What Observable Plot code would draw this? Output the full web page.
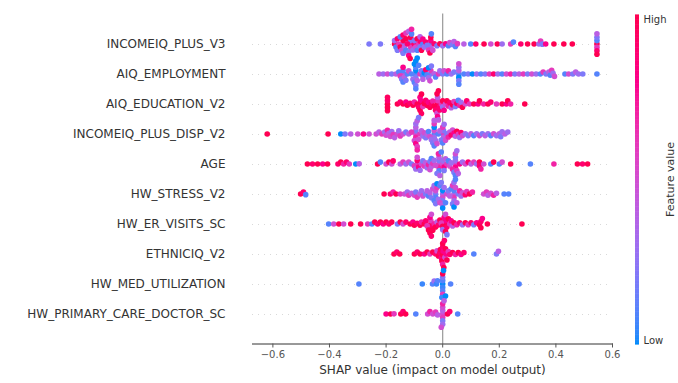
<!DOCTYPE html>
<html>
<head>
<meta charset="utf-8">
<script src="https://cdn.jsdelivr.net/npm/d3@7"></script>
<script src="https://cdn.jsdelivr.net/npm/@observablehq/plot@0.6"></script>
<style>
  html, body { margin: 0; padding: 0; background: #fff; }
  #chart { position: relative; width: 678px; height: 383px; font-family: "DejaVu Sans", sans-serif; }
  #chart > svg { position: absolute; left: 0; top: 0; }
</style>
</head>
<body>
<div id="chart"></div>
<script>
// Feature names (top to bottom)
const features = [
  "INCOMEIQ_PLUS_V3", "AIQ_EMPLOYMENT", "AIQ_EDUCATION_V2", "INCOMEIQ_PLUS_DISP_V2",
  "AGE", "HW_STRESS_V2", "HW_ER_VISITS_SC", "ETHNICIQ_V2",
  "HW_MED_UTILIZATION", "HW_PRIMARY_CARE_DOCTOR_SC"
];

// [SHAP value, normalized feature value (0 = low, 1 = high)]
const incomeiqPlusV3 = [
  [-0.113,0.9],[-0.113,0.2],[-0.113,0.6],[-0.113,1],[-0.042,0.1],[-0.042,0.8],[-0.042,0.4],[-0.042,1],[-0.14,0.3],[-0.14,1],
  [-0.26,0.2],[-0.22,0.2],
  [-0.17,1],[-0.17,0.3],[-0.165,0.1],[-0.16,0.9],[-0.16,0.2],[-0.155,0.6],[-0.15,1],[-0.15,0.1],[-0.145,0.5],[-0.14,0.9],[-0.14,0.2],[-0.135,0.4],[-0.13,1],[-0.13,0.1],[-0.13,0.6],[-0.125,0.9],[-0.12,0.2],[-0.12,0.8],[-0.12,0.4],[-0.115,1],[-0.11,0.1],[-0.11,0.7],[-0.105,0.3],[-0.1,0.9],[-0.1,0.2],[-0.095,0.5],[-0.09,1],[-0.09,0.1],[-0.085,0.6],[-0.08,0.9],[-0.08,0.2],[-0.08,0.4],[-0.075,1],[-0.07,0.1],[-0.07,0.8],[-0.065,0.3],[-0.06,0.9],[-0.055,0.2],[-0.05,0.6],[-0.045,1],[-0.04,0.1],[-0.035,0.5],[-0.03,0.9],[-0.02,0.2],[-0.01,1],[0.0,0.3],[0.01,0.8],[0.02,0.1],[0.025,0.5],[0.035,0.2],[0.04,0.4],[0.045,0.1],
  [0.052,0.6],[0.075,0.4],[0.099,0.1],[0.117,0.9],[0.146,1],[0.17,0.5],[0.193,1],[0.21,0.3],[0.24,0.6],[0.25,0.1],[0.276,0.9],[0.3,1],[0.323,1],[0.34,0.3],[0.346,0.6],[0.352,0.2],[0.364,0.8],[0.393,1],[0.428,1],[0.458,1],
  [0.545,1],[0.545,0.1],[0.545,0.6],[0.545,0.9],[0.545,0.2],[0.545,1],[0.545,0.4]
];
const aiqEmployment = [
  [-0.095,0.1],[-0.095,0.0],[-0.095,0.2],[-0.095,0.1],[-0.14,0.5],[-0.14,0.1],[-0.042,0.2],[-0.042,0.6],
  [-0.225,0.4],[-0.21,0.3],[-0.195,0.5],[-0.18,0.2],[-0.165,0.4],[-0.155,0.1],
  [-0.15,0.6],[-0.145,0.2],[-0.14,0.8],[-0.14,0.1],[-0.135,0.4],[-0.13,0.2],[-0.125,0.1],[-0.12,0.5],
  [-0.11,0.1],[-0.105,0.3],[-0.1,0.1],[-0.1,0],[-0.095,0.2],[-0.095,0],[-0.095,0.1],[-0.09,0.4],[-0.09,0],[-0.085,0.1],[-0.08,0.6],[-0.075,0.2],[-0.07,0.1],[-0.07,0.4],[-0.065,0.0],[-0.06,0.9],[-0.055,0.1],[-0.05,0.3],[-0.05,0.0],[-0.045,0.5],[-0.04,0.2],[-0.03,0.4],[-0.025,0.1],[-0.015,0.6],[-0.01,0.3],[0.0,0.2],[0.005,0.5],[0.015,0.1],[0.02,0.7],[0.03,0.3],[0.04,0.2],
  [0.057,0.1],[0.057,0.4],[0.057,0.0],[0.057,0.2],[0.057,0.3],[0.057,0.1],[0.057,0.5],
  [0.075,0.1],[0.09,0.2],[0.105,0.0],[0.12,0.3],[0.135,0.1],[0.15,0.2],[0.165,0.6],[0.18,0.9],[0.195,0.3],[0.21,0.1],[0.225,0.5],[0.24,0.7],[0.255,0.2],[0.27,0.4],[0.285,0.6],[0.3,0.2],[0.315,0.5],[0.33,0.3],[0.345,0.1],[0.355,0.6],[0.365,0.2],[0.375,0.4],[0.38,0.1],[0.385,0.6],[0.39,0.3],[0.395,0.5],[0.432,0.1],[0.445,0.5],[0.46,0.2],[0.47,0.4],[0.48,0.3],[0.495,0.2],[0.545,0.1]
];
const aiqEducationV2 = [
  [-0.018,1],[-0.018,0.6],[-0.018,0.9],[-0.018,0.4],[-0.078,1],[-0.078,0.8],
  [-0.195,1],[-0.195,0.9],[-0.195,1],[-0.195,0.95],[-0.195,1],
  [-0.16,1],[-0.15,0.9],[-0.14,1],[-0.13,0.8],[-0.125,1],[-0.115,0.9],[-0.105,1],[-0.1,0.7],
  [-0.09,1],[-0.085,0.9],[-0.08,1],[-0.08,0.8],[-0.075,0.95],[-0.075,1],[-0.07,0.6],[-0.065,1],[-0.06,0.9],[-0.055,1],[-0.05,0.8],[-0.045,1],[-0.04,0.9],[-0.035,0.7],[-0.03,1],[-0.025,0.9],[-0.02,0.5],[-0.02,1],[-0.018,0.8],[-0.015,1],[-0.015,0.4],[-0.01,0.9],[-0.005,0.6],[0.0,1],[0.0,0.3],[0.005,0.8],[0.01,0.5],[0.015,1],[0.02,0.7],[0.025,0.9],[0.03,0.4],[0.035,1],[0.04,0.6],[0.045,0.2],[0.05,0.9],[0.055,0.1],[0.06,0.7],[0.065,0.3],[0.07,1],[0.08,0.5],[0.085,0.9],[0.095,0.6],[0.11,1],[0.125,0.8],[0.13,1],[0.145,0.7],[0.16,1],[0.17,0.9],[0.19,0.6],[0.21,1],[0.225,0.8],[0.23,1],[0.24,0.7],[0.29,1]
];
const incomeiqPlusDispV2 = [
  [-0.095,0.5],[-0.095,0.2],[-0.095,0.7],[-0.095,0.4],[-0.03,0.1],[-0.03,0.5],[-0.03,0.3],[-0.03,0.0],[0.003,0.6],[0.003,0.2],[0.003,0.4],
  [-0.62,1],[-0.405,1],[-0.36,0],[-0.345,0.2],[-0.325,0.4],[-0.3,0.5],[-0.28,0.8],[-0.26,0.5],
  [-0.235,0.5],[-0.225,0.4],[-0.215,0.6],[-0.205,0.3],[-0.2,0.5],[-0.195,0.7],[-0.19,0.4],[-0.185,0.5],[-0.18,0.3],[-0.175,0.6],[-0.17,0.4],[-0.16,0.5],[-0.155,0.3],[-0.15,0.6],[-0.14,0.5],[-0.13,0.2],[-0.12,0.4],[-0.11,0.6],
  [-0.1,0.5],[-0.095,0.8],[-0.095,0.3],[-0.09,0.6],[-0.09,0.4],[-0.09,0.7],[-0.085,0.5],[-0.085,0.2],[-0.08,0.6],[-0.075,0.4],[-0.07,0.3],[-0.065,0.5],[-0.06,0.2],[-0.055,0.4],[-0.05,0.1],[-0.045,0.5],[-0.04,0.3],[-0.035,0.2],[-0.03,0.6],[-0.03,0.1],[-0.03,0.4],[-0.025,0.3],[-0.02,0.5],[-0.015,0.1],[-0.01,0.4],[-0.005,0.2],[0.0,0.6],[0.0,0.1],[0.005,0.3],[0.01,0.5],[0.015,0.2],[0.02,0.7],[0.025,0.4],[0.03,0.9],[0.035,0.5],[0.04,0.8],[0.045,0.4],[0.05,1],[0.055,0.6],[0.06,0.3],[0.065,0.9],[0.07,0.5],
  [0.08,0.3],[0.09,0.2],[0.1,0.4],[0.11,0.1],[0.12,0.3],[0.13,0.5],[0.14,0.2],[0.15,0.4],[0.16,0.3],[0.17,0.1],[0.18,0.5],[0.19,0.3],[0.2,0.4],[0.205,0.2],[0.21,0.3],[0.22,0.4],[0.23,0.3]
];
const age = [
  [-0.013,0.5],[-0.013,0.2],[-0.013,0.7],[-0.013,0.4],[-0.013,0.1],[0.045,0.6],[0.045,0.3],[0.045,0.8],[0.045,0.2],[-0.09,0.5],[-0.09,0.9],
  [-0.478,1],[-0.46,0.9],[-0.442,1],[-0.424,0.8],[-0.407,1],[-0.37,0.9],[-0.36,1],[-0.35,0.7],[-0.34,0.9],[-0.33,0.6],[-0.307,0],[-0.295,0.4],[-0.23,1],[-0.22,0.1],[-0.2,0.5],[-0.19,1],[-0.18,0.5],[-0.175,0.9],
  [-0.15,0.4],[-0.14,0.6],[-0.13,0.3],[-0.12,0.5],[-0.11,0.2],[-0.1,0.6],[-0.095,0.3],[-0.09,0.5],[-0.085,0.8],[-0.08,0.3],[-0.075,0.5],[-0.07,0.2],[-0.065,0.6],[-0.06,0.4],[-0.055,0.3],[-0.05,0.7],[-0.045,0.2],[-0.045,0.5],[-0.04,0.4],[-0.04,0.1],[-0.035,0.6],[-0.03,0.3],[-0.025,0.5],[-0.02,0.2],[-0.015,0.7],[-0.01,0.4],[-0.005,0.1],[0.0,0.5],[0.0,0.3],[0.005,0.8],[0.005,0.2],[0.01,0.4],[0.015,0.6],[0.02,0.1],[0.025,0.5],[0.03,0.3],[0.035,0.7],[0.04,0.2],[0.045,0.5],[0.045,0.1],[0.05,0.6],[0.05,0.3],[0.055,0.4],[0.06,0.8],[0.07,0.3],[0.08,0.5],[0.09,0.9],[0.1,0.4],[0.11,0.6],[0.12,0.3],[0.13,1],[0.13,0.9],[0.135,0.7],[0.145,0.5],
  [0.17,0.1],[0.18,1],[0.2,0.1],[0.21,0.5],[0.24,1],[0.31,0.1],[0.393,0.7],[0.476,1],[0.494,0.9],[0.512,1]
];
const hwStressV2 = [
  [-0.025,0.2],[-0.025,0.5],[-0.025,0.1],[0.0,0.3],[0.0,0.0],[0.0,0.5],[0.0,0.2],[0.04,0.4],[0.04,0.1],[0.04,0.6],[0.04,0.3],
  [-0.502,1],[-0.492,0.9],[-0.484,0.1],[-0.207,1],[-0.185,0.9],[-0.175,0.7],[-0.165,1],[-0.15,0.6],
  [-0.135,0.5],[-0.125,0.3],[-0.12,0.6],[-0.11,0.4],[-0.1,0.5],[-0.095,0.2],[-0.09,0.6],[-0.08,0.4],[-0.075,0.3],[-0.07,0.5],[-0.06,0.2],[-0.055,0.4],
  [-0.05,0.1],[-0.045,0.4],[-0.04,0.2],[-0.035,0.5],[-0.03,0.1],[-0.03,0.3],[-0.025,0.2],[-0.02,0.6],[-0.02,0.0],[-0.015,0.3],[-0.01,0.1],[-0.01,0.5],[-0.005,0.2],[0.0,0.4],[0.0,0.0],[0.005,0.3],[0.01,0.1],[0.015,0.5],[0.02,0.2],[0.025,0.4],[0.03,0.1],[0.035,0.6],[0.035,0.2],[0.04,0.3],[0.04,0.0],[0.045,0.5],[0.045,0.1],[0.05,0.4],[0.055,0.2],[0.06,0.7],[0.065,0.3],[0.07,0.5],[0.08,0.9],[0.085,0.6],[0.095,1],[0.105,0.7],
  [0.145,0.5],[0.155,0.6],[0.16,0.4],[0.17,0.5],[0.18,0.7],[0.19,0.4],[0.217,0.1],[0.233,0.1]
];
const hwErVisitsSc = [
  [-0.042,1],[-0.042,0.6],[-0.042,0.9],[0.01,1],[0.01,0.8],
  [-0.403,0.1],[-0.385,0.5],[-0.367,1],[-0.35,0.5],[-0.325,1],[-0.29,1],[-0.265,0.6],[-0.25,0.1],[-0.24,1],[-0.23,0.9],[-0.22,1],[-0.21,0.8],[-0.2,1],[-0.19,0.9],[-0.18,1],[-0.16,0.2],[-0.15,1],[-0.14,0.5],[-0.13,0.9],[-0.115,1],[-0.105,0.8],[-0.1,1],[-0.09,0.9],[-0.08,1],[-0.075,0.7],[-0.065,1],
  [-0.06,0.9],[-0.055,0.6],[-0.05,1],[-0.045,0.8],[-0.045,1],[-0.04,0.5],[-0.04,0.9],[-0.035,1],[-0.03,0.7],[-0.025,1],[-0.02,0.4],[-0.015,0.9],[-0.01,1],[-0.005,0.6],[0.0,1],[0.0,0.3],[0.005,0.8],[0.01,1],[0.01,0.5],[0.015,0.9],[0.015,0.2],[0.02,1],[0.025,0.6],[0.03,0.8],[0.035,0.4],[0.04,1],[0.05,0.7],[0.06,0.9],[0.07,0.3],[0.08,1],[0.09,0.6],[0.1,0.9],[0.11,0.2],[0.12,0.8],[0.13,1],[0.135,0.9],[0.135,1],[0.14,0.8],[0.158,1],[0.28,1]
];
const ethniciqV2 = [
  [-0.172,1],[-0.162,0.9],[-0.152,1],[-0.1,1],[-0.09,0.9],[-0.08,1],[-0.065,0.8],[-0.055,1],[-0.045,0.6],[-0.035,1],[-0.025,0.9],[-0.02,0.5],
  [-0.015,1],[-0.01,0.9],[-0.008,1],[-0.005,0.8],[-0.003,1],[0.0,1],[0.0,0.9],[0.0,0.7],[0.0,1],[0.002,0.8],[0.004,1],[0.006,0.9],[0.008,0.5],[0.01,1],[0.012,0.8],[0.015,1],[0.02,0.6],[0.025,0.9],[0.035,1],[0.045,0.7],[0.055,1],[0.065,0.8],[0.075,0.9],[0.11,0.1],[0.19,0.2],[0.197,0.4]
];
const hwMedUtilization = [
  [-0.296,0.1],[-0.072,0.05],[-0.036,0.1],[-0.03,0.3],[-0.022,0.05],[-0.018,0.1],
  [0.0,0.0],[0.0,0.1],[0.0,0.05],[0.0,0.2],[0.0,0.1],[0.0,1],[0.0,0.6],[0.003,0.0],[-0.003,0.05],[0.01,0.0],[0.028,0.1],[0.27,0.1]
];
const hwPrimaryCareDoctorSc = [
  [-0.2,0.8],[-0.184,1],[-0.172,0.6],[-0.148,1],[-0.14,0.9],[-0.131,1],[-0.095,0.1],[-0.053,0.5],[-0.045,0.7],[-0.035,0.5],[-0.025,0.6],[-0.018,0.4],
  [0.0,0.5],[0.0,0.4],[0.0,0.6],[0.0,0.2],[0.0,0.5],[0.0,0.3],[0.0,0.7],[-0.005,0.5],[0.005,0.4],[0.017,1],[0.025,0.9],[0.053,0.1]
];

const xTicks = [-0.6, -0.4, -0.2, 0.0, 0.2, 0.4, 0.6];
const xLabel = "SHAP value (impact on model output)";
const colorLabels = { high: "High", low: "Low", title: "Feature value" };

const seriesByFeature = [
  incomeiqPlusV3, aiqEmployment, aiqEducationV2, incomeiqPlusDispV2, age,
  hwStressV2, hwErVisitsSc, ethniciqV2, hwMedUtilization, hwPrimaryCareDoctorSc
];
const points = features.flatMap((f, i) =>
  seriesByFeature[i].map(([shap, value]) => ({feature: f, shap, value}))
);

const W = 678, H = 383;
const xDomain = [-0.672, 0.6];
const colorScale = {type: "linear", domain: [0, 1], range: ["#008bfb", "#ff0052"], interpolate: "hcl"};
const font = {fontFamily: "DejaVu Sans, sans-serif", background: "transparent", overflow: "visible"};

// Background: grid, zero line, axes, labels
const back = Plot.plot({
  width: W, height: H,
  marginLeft: 252, marginRight: 66, marginTop: 13.5, marginBottom: 39.5,
  style: {...font, background: "white"},
  x: {domain: xDomain, axis: null},
  y: {type: "point", domain: features, padding: 1, axis: null},
  marks: [
    Plot.ruleY(features, {stroke: "#cfcfcf", strokeWidth: 0.8, strokeDasharray: "1,5"}),
    Plot.ruleX([0], {stroke: "#999999", strokeWidth: 1.2}),
    Plot.frame({anchor: "bottom", stroke: "#333"}),
    Plot.axisX({ticks: xTicks, tickFormat: d3.format(".1f"), tickSize: 4, tickPadding: 3, fontSize: 10, color: "#555", label: null}),
    Plot.axisY({tickSize: 0, tickPadding: 27, fontSize: 12, color: "#333", label: null}),
    Plot.text([xLabel], {frameAnchor: "bottom", dy: 30, fontSize: 12, fill: "#333"})
  ]
});

// Beeswarm dots, faceted per feature
const swarm = Plot.plot({
  width: W, height: H,
  marginLeft: 252, marginRight: 66, marginTop: 28.5, marginBottom: 54.5,
  style: font,
  x: {domain: xDomain, axis: null},
  fy: {domain: features, paddingInner: 0, paddingOuter: 0, round: false, axis: null, label: null},
  color: colorScale,
  marks: [
    Plot.dot(points, Plot.dodgeY({anchor: "middle", padding: -2.2, r: 2.8, x: "shap", fy: "feature", fill: "value"}))
  ]
});

// Colour bar
const stops = d3.range(0, 1.0001, 0.005);
const bar = Plot.plot({
  width: W, height: H,
  marginLeft: 635, marginRight: 39, marginTop: 15, marginBottom: 40,
  style: font,
  x: {axis: null},
  y: {domain: [0, 1], axis: null},
  color: colorScale,
  marks: [
    Plot.ruleY(stops, {y: d => d, stroke: d => d, strokeWidth: 2.2}),
    Plot.text([colorLabels.high], {frameAnchor: "top-right", dx: 4, textAnchor: "start", fontSize: 10, fill: "#333"}),
    Plot.text([colorLabels.low], {frameAnchor: "bottom-right", dx: 4, textAnchor: "start", fontSize: 10, fill: "#333"}),
    Plot.text([colorLabels.title], {frameAnchor: "right", dx: 31, textAnchor: "middle", rotate: -90, fontSize: 11, fill: "#333"})
  ]
});

const chart = document.getElementById("chart");
chart.append(back, swarm, bar);
</script>
</body>
</html>
